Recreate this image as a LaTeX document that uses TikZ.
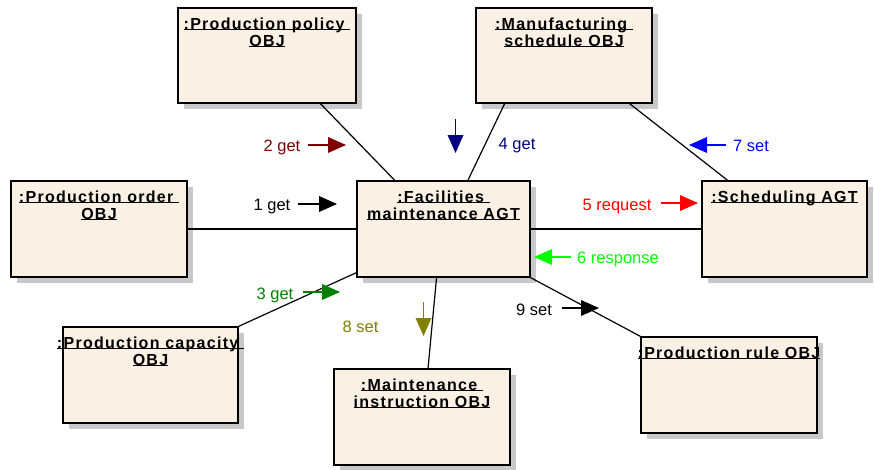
\documentclass[tikz,border=0pt]{standalone}
\usepackage{fontspec}
\setmainfont{Liberation Sans}
\newfontfamily\titlefont{Liberation Sans}[LetterSpace=8]
\usetikzlibrary{arrows.meta,calc,shadows}

\definecolor{boxfill}{RGB}{250,240,227}
\definecolor{shadowgray}{RGB}{200,200,200}
\definecolor{msgdarkred}{RGB}{128,0,0}
\definecolor{msgnavy}{RGB}{0,0,128}
\definecolor{msgblue}{RGB}{0,0,255}
\definecolor{msgred}{RGB}{255,0,0}
\definecolor{msglime}{RGB}{0,255,0}
\definecolor{msggreen}{RGB}{0,128,0}
\definecolor{msgolive}{RGB}{128,128,0}

% underline drawn just below the baseline, crossing descenders
\newcommand\ulin[1]{\setbox0=\hbox{#1}\rlap{\rule[-1.3pt]{\wd0}{1pt}}\box0}

\tikzset{
  umlbox/.style={draw=black, line width=1.3pt, fill=boxfill, inner sep=0pt,
    general shadow={fill=shadowgray, shadow xshift=6pt, shadow yshift=-6pt}},
  boxtitle/.style={anchor=north, inner sep=0pt, align=center,
    font=\titlefont\bfseries\fontsize{16}{17}\selectfont},
  link/.style={draw=black, line width=1.2pt},
  msgarrow/.style={line width=1.7pt, -{Triangle[length=18pt,width=16pt,line width=0pt]}},
  msglabel/.style={anchor=base, inner sep=0pt, font=\fontsize{16.5}{18}\selectfont},
}

\begin{document}
\begin{tikzpicture}[x=1pt,y=-1pt]
\useasboundingbox (0,0) rectangle (874,469);

% object and agent boxes
\node[umlbox, minimum width=178pt, minimum height=95pt] (pol) at (267,55.5) {};
\node[umlbox, minimum width=176pt, minimum height=95pt] (man) at (564,55.5) {};
\node[umlbox, minimum width=176pt, minimum height=96pt] (ord) at (99,229) {};
\node[umlbox, minimum width=173pt, minimum height=96pt] (fac) at (443.5,229) {};
\node[umlbox, minimum width=165pt, minimum height=96pt] (sch) at (784.5,229) {};
\node[umlbox, minimum width=175pt, minimum height=96pt] (cap) at (150.5,375) {};
\node[umlbox, minimum width=176pt, minimum height=96pt] (mai) at (422,417) {};
\node[umlbox, minimum width=176pt, minimum height=96pt] (rul) at (729,385) {};

% box titles
\node[boxtitle] (polt) at ($(pol.north)+(0,10)$) {\ulin{:Production policy\ }\\\ulin{OBJ}};
\node[boxtitle] (mant) at ($(man.north)+(0,10)$) {\ulin{:Manufacturing\ }\\\ulin{schedule OBJ}};
\node[boxtitle] (ordt) at ($(ord.north)+(0,10)$) {\ulin{:Production order\ }\\\ulin{OBJ}};
\node[boxtitle] (fact) at ($(fac.north)+(0,10)$) {\ulin{:Facilities\ }\\\ulin{maintenance AGT}};
\node[boxtitle] (scht) at ($(sch.north)+(0,10)$) {\ulin{:Scheduling AGT}};
\node[boxtitle] (capt) at ($(cap.north)+(0,10)$) {\ulin{:Production capacity\ }\\\ulin{OBJ}};
\node[boxtitle] (mait) at ($(mai.north)+(0,10)$) {\ulin{:Maintenance\ }\\\ulin{instruction OBJ}};
\node[boxtitle] (rult) at ($(rul.north)+(0,10)$) {\ulin{:Production rule OBJ}};

% links
\draw[link] ($(pol.south west)!0.798!(pol.south east)$) -- ($(fac.north west)!0.22!(fac.north east)$);
\draw[link] ($(man.south west)!0.165!(man.south east)$) -- ($(fac.north west)!0.64!(fac.north east)$);
\draw[link] ($(man.south west)!0.87!(man.south east)$) -- ($(sch.north west)!0.158!(sch.north east)$);
\draw[link] (ord.east) -- (fac.west);
\draw[link] (fac.east) -- (sch.west);
\draw[link] (cap.north east) -- ($(fac.south west)+(0,-5)$);
\draw[link] ($(fac.south west)!0.46!(fac.south east)$) -- ($(mai.north west)!0.534!(mai.north east)$);
\draw[link] (fac.south east) -- (rul.north west);

% message arrows
\coordinate (m1s) at (298,204);   \coordinate (m1e) at (337,204);
\coordinate (m2s) at (308,145);   \coordinate (m2e) at (346,145);
\coordinate (m3s) at (303,292);   \coordinate (m3e) at (340,292);
\coordinate (m4s) at (455.5,119); \coordinate (m4e) at (455.5,153);
\coordinate (m5s) at (661,203);   \coordinate (m5e) at (698,203);
\coordinate (m6s) at (571,257);   \coordinate (m6e) at (534,257);
\coordinate (m7s) at (726,145);   \coordinate (m7e) at (689,145);
\coordinate (m8s) at (423.5,302); \coordinate (m8e) at (423.5,336);
\coordinate (m9s) at (562,308);   \coordinate (m9e) at (599,308);

\draw[msgarrow, black]      (m1s) -- (m1e);
\draw[msgarrow, msgdarkred] (m2s) -- (m2e);
\draw[msgarrow, msggreen]   (m3s) -- (m3e);
\draw[msgarrow, msgnavy]    (m4s) -- (m4e);
\draw[msgarrow, msgred]     (m5s) -- (m5e);
\draw[msgarrow, msglime]    (m6s) -- (m6e);
\draw[msgarrow, msgblue]    (m7s) -- (m7e);
\draw[msgarrow, msgolive]   (m8s) -- (m8e);
\draw[msgarrow, black]      (m9s) -- (m9e);

% message labels
\node[msglabel, black]      (l1) at (272,210)   {1 get};
\node[msglabel, msgdarkred] (l2) at (282,151.5) {2 get};
\node[msglabel, msggreen]   (l3) at (275,299)   {3 get};
\node[msglabel, msgnavy]    (l4) at (517,149)   {4 get};
\node[msglabel, msgred]     (l5) at (617,210.5) {5 request};
\node[msglabel, msglime]    (l6) at (618,263)   {6 response};
\node[msglabel, msgblue]    (l7) at (751,151.5) {7 set};
\node[msglabel, msgolive]   (l8) at (360.5,332.5) {8 set};
\node[msglabel, black]      (l9) at (534,315)   {9 set};
\end{tikzpicture}
\end{document}
